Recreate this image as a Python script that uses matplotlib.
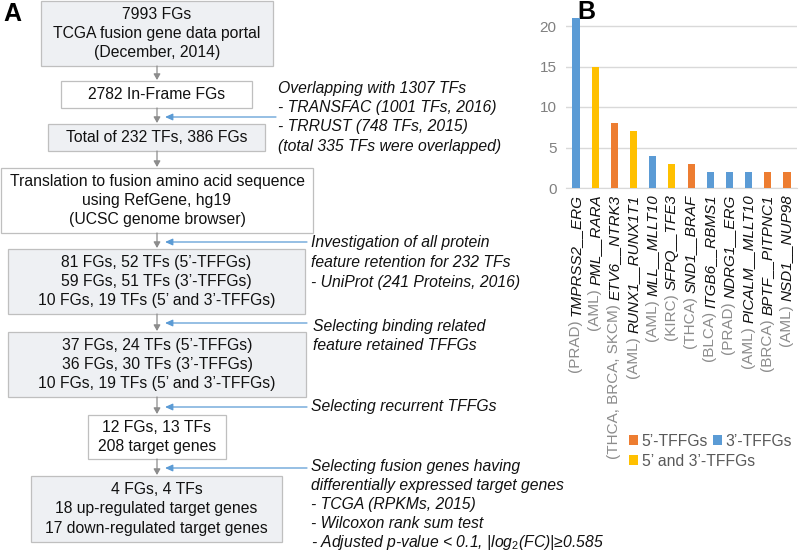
import matplotlib
matplotlib.use("Agg")
import matplotlib.pyplot as plt
from matplotlib.patches import Rectangle, Patch

plt.rcParams['font.family'] = ['Liberation Sans', 'DejaVu Sans']
plt.rcParams['mathtext.fontset'] = 'custom'
plt.rcParams['mathtext.rm'] = 'Liberation Sans'
plt.rcParams['mathtext.it'] = 'Liberation Sans:italic'

# ---------------- Panel B data ----------------
cancer_types = ['(PRAD)', '(AML)', '(THCA, BRCA, SKCM)', '(AML)', '(AML)', '(KIRC)',
                '(THCA)', '(BLCA)', '(PRAD)', '(AML)', '(BRCA)', '(AML)']
fusion_genes = ['TMPRSS2__ERG', 'PML__RARA', 'ETV6__NTRK3', 'RUNX1__RUNX1T1', 'MLL__MLLT10',
                'SFPQ__TFE3', 'SND1__BRAF', 'ITGB6__RBMS1', 'NDRG1__ERG', 'PICALM__MLLT10',
                'BPTF__PITPNC1', 'NSD1__NUP98']
counts = [21, 15, 8, 7, 4, 3, 3, 2, 2, 2, 2, 2]
fg_types = ["3'", "53", "5'", "53", "3'", "53", "5'", "3'", "3'", "3'", "5'", "5'"]
type_colors = {"5'": '#ED7D31', "3'": '#5B9BD5', "53": '#FFC000'}
type_labels = {"5'": '5’-TFFGs', "3'": '3’-TFFGs', "53": '5’ and 3’-TFFGs'}
yticks = [0, 5, 10, 15, 20]

# ---------------- Panel A flowchart text ----------------
box_texts = [
    ['7993 FGs', 'TCGA fusion gene data portal', '(December, 2014)'],
    ['2782 In-Frame FGs'],
    ['Total of 232 TFs, 386 FGs'],
    ['Translation to fusion amino acid sequence', 'using RefGene, hg19', '(UCSC genome browser)'],
    ['81 FGs, 52 TFs (5’-TFFGs)', '59 FGs, 51 TFs (3’-TFFGs)', '10 FGs, 19 TFs (5’ and 3’-TFFGs)'],
    ['37 FGs, 24 TFs (5’-TFFGs)', '36 FGs, 30 TFs (3’-TFFGs)', '10 FGs, 19 TFs (5’ and 3’-TFFGs)'],
    ['12 FGs, 13 TFs', '208 target genes'],
    ['4 FGs, 4 TFs', '18 up-regulated target genes', '17 down-regulated target genes'],
]
note_texts = [
    ['Overlapping with 1307 TFs', '- TRANSFAC (1001 TFs, 2016)', '- TRRUST (748 TFs, 2015)',
     '(total 335 TFs were overlapped)'],
    ['Investigation of all protein', 'feature retention for 232 TFs', '- UniProt (241 Proteins, 2016)'],
    ['Selecting binding related', 'feature retained TFFGs'],
    ['Selecting recurrent TFFGs'],
    ['Selecting fusion genes having', 'differentially expressed target genes',
     '- TCGA (RPKMs, 2015)', '- Wilcoxon rank sum test',
     r'- Adjusted p-value < 0.1, |log$_2$(FC)|≥0.585'],
]

# layout (pixel coordinates)
box_geom = [(41, 1, 273, 66), (61, 81, 252, 108), (48, 124, 265, 151), (1, 168, 313, 233),
            (8, 249, 305, 314), (8, 332, 306, 397), (88, 415, 226, 459), (31, 476, 282, 542)]
box_fill = ['#eef0f3', 'white', '#eef0f3', 'white', '#eef0f3', '#eef0f3', 'white', '#eef0f3']
note_pos = [(278, 88), (311, 243), (313, 326), (311, 407), (311, 466)]
note_spacing = [19.5, 19.5, 19.5, 19.5, 19.2]
blue_arrows = [(276, 117), (307, 242), (307, 323), (307, 407), (307, 468)]

fig = plt.figure(figsize=(8.0, 5.52), dpi=100)
axA = fig.add_axes([0, 0, 1, 1], zorder=0)
axA.set_xlim(0, 800)
axA.set_ylim(552, 0)
axA.axis('off')

FS = 11.3
for (x0, y0, x1, y1), fc, lines in zip(box_geom, box_fill, box_texts):
    axA.add_patch(Rectangle((x0, y0), x1 - x0, y1 - y0, facecolor=fc,
                            edgecolor='#bfbfbf', lw=0.9))
    cy = (y0 + y1) / 2
    n = len(lines)
    for k, ln in enumerate(lines):
        yy = cy + (k - (n - 1) / 2) * 19
        axA.text((x0 + x1) / 2, yy, ln, ha='center', va='center', fontsize=FS, color='#111111')

# gray arrows between boxes
for (a, b) in zip(box_geom[:-1], box_geom[1:]):
    axA.annotate('', xy=(157, b[1] - 1), xytext=(157, a[3]),
                 arrowprops=dict(arrowstyle='-|>,head_length=0.35,head_width=0.2',
                                 color='#8c8c8c', lw=0.9, shrinkA=0, shrinkB=0))

# blue arrows
for (xs, yy) in blue_arrows:
    axA.annotate('', xy=(165, yy), xytext=(xs, yy),
                 arrowprops=dict(arrowstyle='-|>,head_length=0.45,head_width=0.2',
                                 color='#5B9BD5', lw=0.9, shrinkA=0, shrinkB=0))

for (nx, ny), sp, lines in zip(note_pos, note_spacing, note_texts):
    for k, ln in enumerate(lines):
        axA.text(nx, ny + k * sp, ln, ha='left', va='center', fontsize=FS,
                 style='italic', color='#111111')

axA.text(3, 14, 'A', fontsize=18, fontweight='bold', ha='left', va='center')
axA.text(577, 12, 'B', fontsize=18, fontweight='bold', ha='left', va='center')

# ---------------- Panel B ----------------
axB = fig.add_axes([566.4 / 800, 1 - 188 / 552, 230.2 / 800, 182.25 / 552], zorder=2)
axB.patch.set_alpha(0)
x = list(range(len(counts)))
axB.bar(x, counts, width=0.37, color=[type_colors[t] for t in fg_types], zorder=3)
axB.set_xlim(-0.5, len(counts) - 0.5)
axB.set_ylim(0, 22.5)
axB.set_yticks(yticks)
axB.yaxis.grid(True, color='#d9d9d9', lw=1)
axB.set_axisbelow(True)
for s in ['left', 'top', 'right']:
    axB.spines[s].set_visible(False)
axB.spines['bottom'].set_color('#d9d9d9')
axB.tick_params(axis='y', length=0, labelsize=11, labelcolor='#808080', pad=7)
axB.set_xticks(x)
axB.set_xticklabels([])
axB.tick_params(axis='x', length=0)

trans = axB.get_xaxis_transform()
for i, (ct, fg) in enumerate(zip(cancer_types, fusion_genes)):
    g = axB.text(i, -0.035, fg, transform=trans, rotation=90, ha='center', va='top',
                 fontsize=11, style='italic', color='#111111')
    axB.annotate(ct + ' ', xy=(0.5, 0), xycoords=g, rotation=90, ha='center', va='top',
                 fontsize=11, color='#8c8c8c')

leg_kw = dict(loc='upper left', frameon=False, fontsize=FS, handlelength=0.6,
              handleheight=0.6, handletextpad=0.2, columnspacing=0.3, borderpad=0,
              borderaxespad=0, labelcolor='#595959')
row1 = [Patch(facecolor=type_colors[t], edgecolor='none', label=type_labels[t]) for t in ["5'", "3'"]]
row2 = [Patch(facecolor=type_colors["53"], edgecolor='none', label=type_labels["53"])]
fig.legend(handles=row1, bbox_to_anchor=(629 / 800, 1 - 434 / 552), ncol=2, **leg_kw)
fig.legend(handles=row2, bbox_to_anchor=(629 / 800, 1 - 454 / 552), ncol=1, **leg_kw)

fig.savefig('out.png', dpi=100)
